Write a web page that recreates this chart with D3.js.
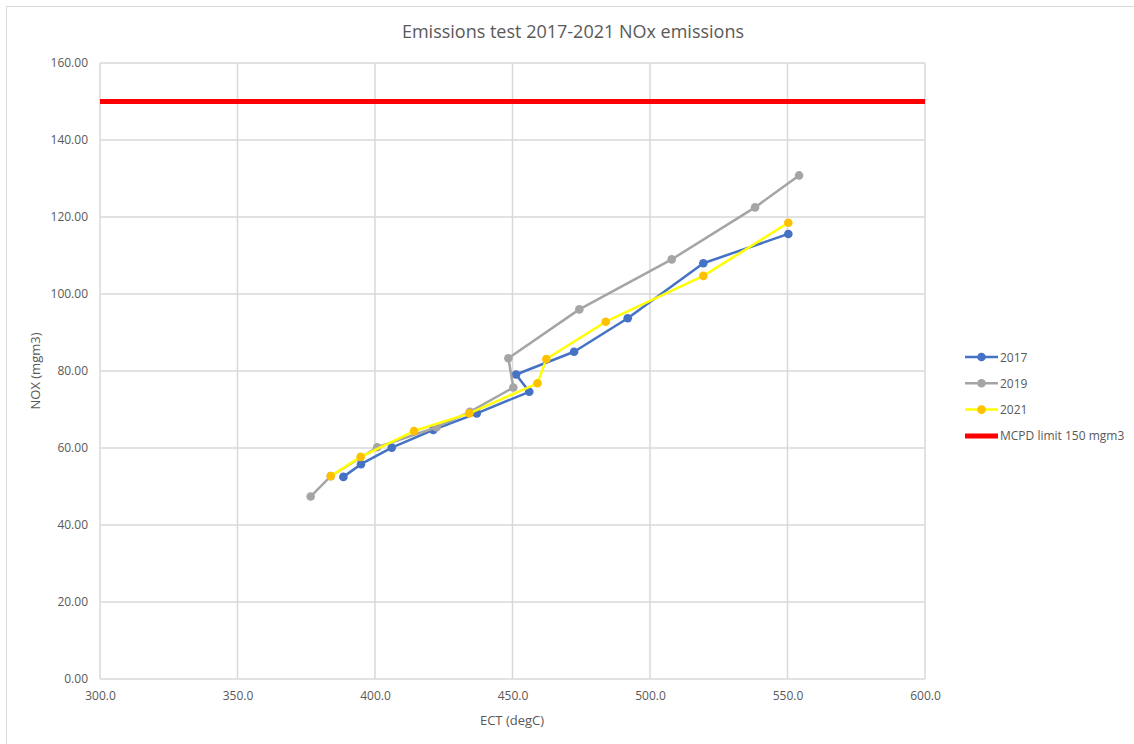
<!DOCTYPE html>
<html><head><meta charset="utf-8">
<script src="https://cdn.jsdelivr.net/npm/d3@7"></script>
<style>body{margin:0;background:#fff;}svg{display:block;font-family:"Open Sans",sans-serif;}</style>
</head><body>
<svg id="c" width="1134" height="744"></svg>
<script>
const title = "Emissions test 2017-2021 NOx emissions";
const xTitle = "ECT (degC)";
const yTitle = "NOX (mgm3)";
const xTicks = [300, 350, 400, 450, 500, 550, 600];
const yTicks = [0, 20, 40, 60, 80, 100, 120, 140, 160];
const limitValue = 150;
const limitLabel = "MCPD limit 150 mgm3";

const ect2017 = [388.5, 394.9, 406.1, 421.2, 437.0, 456.1, 451.3, 472.4, 491.9, 519.4, 550.3];
const nox2017 = [52.5, 55.8, 60.1, 64.7, 69.0, 74.6, 79.1, 85.0, 93.7, 108.0, 115.6];
const ect2019 = [376.6, 383.9, 400.8, 422.4, 434.5, 450.3, 448.5, 474.3, 507.9, 538.2, 554.2];
const nox2019 = [47.4, 52.7, 60.2, 65.4, 69.4, 75.7, 83.3, 96.0, 109.0, 122.5, 130.8];
const ect2021 = [383.9, 394.8, 414.2, 434.3, 459.1, 462.3, 483.9, 519.4, 550.3];
const nox2021 = [52.7, 57.7, 64.4, 69.0, 76.8, 83.1, 92.8, 104.7, 118.5];

const series = [
  {name: "2017", xs: ect2017, ys: nox2017, line: "#4472C4", marker: "#4472C4"},
  {name: "2019", xs: ect2019, ys: nox2019, line: "#A5A5A5", marker: "#A5A5A5"},
  {name: "2021", xs: ect2021, ys: nox2021, line: "#FFFF00", marker: "#FFC000"}
];

const svg = d3.select("#c");
const L = 100, R = 925, T = 63, B = 679;
const x = d3.scaleLinear().domain([300, 600]).range([L, R]);
const y = d3.scaleLinear().domain([0, 160]).range([B, T]);

svg.append("rect").attr("x", 6.5).attr("y", 6.5).attr("width", 1140).attr("height", 750)
  .attr("fill", "#fff").attr("stroke", "#D9D9D9").attr("stroke-width", 1);

// gridlines
svg.append("g").selectAll("line").data(yTicks).join("line")
  .attr("x1", L).attr("x2", R).attr("y1", d => y(d)).attr("y2", d => y(d))
  .attr("stroke", "#D9D9D9").attr("stroke-width", 1.5);
svg.append("g").selectAll("line").data(xTicks).join("line")
  .attr("y1", T).attr("y2", B).attr("x1", d => x(d)).attr("x2", d => x(d))
  .attr("stroke", "#D9D9D9").attr("stroke-width", 1.5);

// axes labels via d3 axes
const yAxis = svg.append("g").attr("transform", `translate(${L},0)`)
  .call(d3.axisLeft(y).tickValues(yTicks).tickFormat(d3.format(".2f")).tickSize(0).tickPadding(12));
const xAxis = svg.append("g").attr("transform", `translate(0,${B})`)
  .call(d3.axisBottom(x).tickValues(xTicks).tickFormat(d3.format(".1f")).tickSize(0).tickPadding(12));
[yAxis, xAxis].forEach(a => {
  a.select(".domain").remove();
  a.selectAll("text").attr("fill", "#595959").style("font-size", "12px").style("font-family", "Open Sans, sans-serif");
});

// limit line
svg.append("line").attr("x1", L).attr("x2", R).attr("y1", y(limitValue)).attr("y2", y(limitValue))
  .attr("stroke", "#FF0000").attr("stroke-width", 5);

// series
const line = d3.line().x(d => x(d[0])).y(d => y(d[1]));
series.forEach(s => {
  const pts = s.xs.map((v, i) => [v, s.ys[i]]);
  svg.append("path").datum(pts).attr("d", line).attr("fill", "none")
    .attr("stroke", s.line).attr("stroke-width", 2.5).attr("stroke-linejoin", "round");
  svg.append("g").selectAll("circle").data(pts).join("circle")
    .attr("cx", d => x(d[0])).attr("cy", d => y(d[1])).attr("r", 4.3).attr("fill", s.marker);
});

// title
svg.append("text").attr("x", 573).attr("y", 38).attr("text-anchor", "middle")
  .attr("fill", "#595959").style("font-size", "18px").text(title);
svg.append("text").attr("x", 512).attr("y", 725).attr("text-anchor", "middle")
  .attr("fill", "#595959").style("font-size", "13px").text(xTitle);
svg.append("text").attr("transform", `translate(40,${(T + B) / 2}) rotate(-90)`).attr("text-anchor", "middle")
  .attr("fill", "#595959").style("font-size", "13px").text(yTitle);

// legend
const leg = [...series.map(s => ({name: s.name, line: s.line, marker: s.marker, w: 2.5})),
  {name: limitLabel, line: "#FF0000", marker: null, w: 5}];
const lg = svg.append("g");
leg.forEach((d, i) => {
  const yy = 357 + i * 26.3;
  lg.append("line").attr("x1", 965).attr("x2", 998).attr("y1", yy).attr("y2", yy)
    .attr("stroke", d.line).attr("stroke-width", d.w);
  if (d.marker) lg.append("circle").attr("cx", 981.5).attr("cy", yy).attr("r", 4.3).attr("fill", d.marker);
  lg.append("text").attr("x", 1000).attr("y", yy + 4.5).attr("fill", "#595959")
    .style("font-size", "12px").text(d.name);
});
</script>
</body></html>
